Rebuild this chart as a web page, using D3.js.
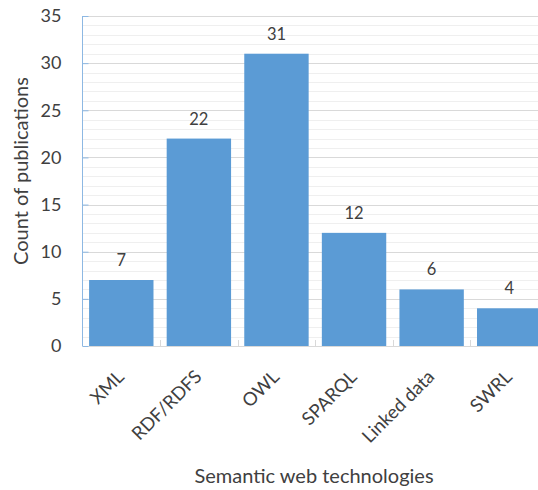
<!DOCTYPE html>
<html>
<head>
<meta charset="utf-8">
<script src="https://cdn.jsdelivr.net/npm/d3@7"></script>
<style>
  html, body { margin: 0; padding: 0; background: #fff; }
  svg { display: block; font-family: Lato, "Open Sans", sans-serif; }
</style>
</head>
<body>
<svg id="chart" width="538" height="490"></svg>
<script>
// Publications per semantic web technology
const categories = ["XML", "RDF/RDFS", "OWL", "SPARQL", "Linked data", "SWRL"];
const counts = [7, 22, 31, 12, 6, 4];
const yTicks = [0, 5, 10, 15, 20, 25, 30, 35];

const svg = d3.select("#chart");
const plotLeft = 82.5, plotRight = 548, plotTop = 16, plotBottom = 346;
const textColor = "#404040";

const x = d3.scaleBand().domain(categories).range([plotLeft, plotRight]).paddingInner(0.17).paddingOuter(0.085);
const y = d3.scaleLinear().domain([0, 35]).range([plotBottom, plotTop]);

// minor gridlines (every 1)
svg.append("g").selectAll("line")
  .data(d3.range(1, 36).filter(v => v % 5 !== 0))
  .join("line")
  .attr("x1", plotLeft).attr("x2", plotRight)
  .attr("y1", d => Math.round(y(d)) + 0.5).attr("y2", d => Math.round(y(d)) + 0.5)
  .attr("stroke", "#efefef").attr("stroke-width", 1);

// major gridlines (every 5)
svg.append("g").selectAll("line")
  .data(yTicks.filter(v => v > 0))
  .join("line")
  .attr("x1", plotLeft).attr("x2", plotRight)
  .attr("y1", d => Math.round(y(d)) + 0.5).attr("y2", d => Math.round(y(d)) + 0.5)
  .attr("stroke", "#d9d9d9").attr("stroke-width", 1);

// bars
svg.append("g").selectAll("rect")
  .data(categories)
  .join("rect")
  .attr("x", d => x(d))
  .attr("width", x.bandwidth())
  .attr("y", (d, i) => y(counts[i]))
  .attr("height", (d, i) => y(0) - y(counts[i]))
  .attr("fill", "#5b9bd5");

// value labels
svg.append("g").selectAll("text")
  .data(categories)
  .join("text")
  .attr("x", d => x(d) + x.bandwidth() / 2)
  .attr("y", (d, i) => y(counts[i]) - 14)
  .attr("text-anchor", "middle")
  .attr("font-size", 16.5)
  .attr("fill", textColor)
  .text((d, i) => counts[i]);

// x baseline and category separators
svg.append("line")
  .attr("x1", plotLeft).attr("x2", plotRight)
  .attr("y1", plotBottom + 0.5).attr("y2", plotBottom + 0.5)
  .attr("stroke", "#d9d9d9");
const gap = x.step() * x.paddingInner() / 2;
svg.append("g").selectAll("line")
  .data(categories.slice(1))
  .join("line")
  .attr("x1", d => Math.round(x(d) - gap) + 0.5)
  .attr("x2", d => Math.round(x(d) - gap) + 0.5)
  .attr("y1", plotBottom).attr("y2", plotBottom - 6)
  .attr("stroke", "#d9d9d9");

// y axis
const yAxis = d3.axisLeft(y).tickValues(yTicks).tickSize(-6).tickPadding(21);
const gy = svg.append("g").attr("transform", `translate(${plotLeft},0)`).call(yAxis);
gy.select(".domain").attr("stroke", "#8db8e3").attr("d", `M0,${plotBottom}V${plotTop}`);
gy.selectAll(".tick line").attr("stroke", "#8db8e3");
gy.selectAll(".tick text")
  .attr("font-size", 18)
  .attr("fill", textColor)
  .attr("font-family", "Lato, sans-serif");

// rotated category labels
svg.append("g").selectAll("text")
  .data(categories)
  .join("text")
  .attr("transform", d => `translate(${x(d) + x.bandwidth() / 2 + 4},${plotBottom + 32}) rotate(-45)`)
  .attr("text-anchor", "end")
  .attr("font-size", 18.5)
  .attr("fill", textColor)
  .text(d => d);

// axis titles
svg.append("text")
  .attr("x", 314).attr("y", 483)
  .attr("text-anchor", "middle")
  .attr("font-size", 20)
  .attr("fill", textColor)
  .text("Semantic web technologies");

svg.append("text")
  .attr("transform", "translate(28,171) rotate(-90)")
  .attr("text-anchor", "middle")
  .attr("font-size", 20)
  .attr("fill", textColor)
  .text("Count of publications");
</script>
</body>
</html>
